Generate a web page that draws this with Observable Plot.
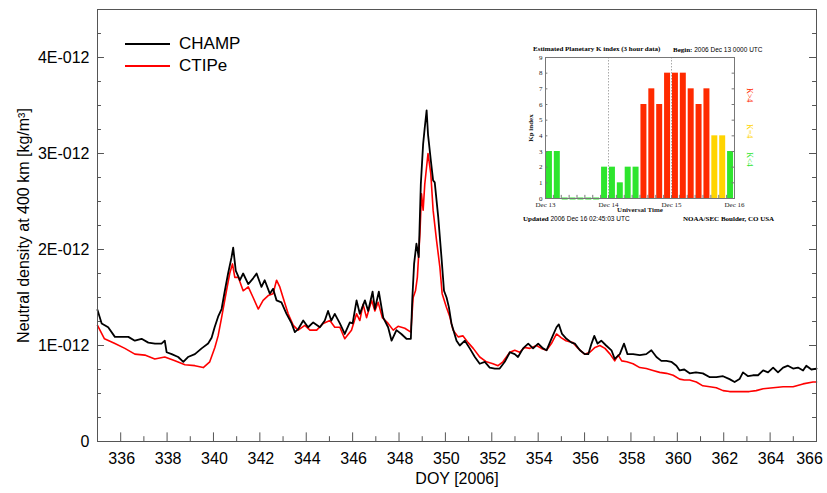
<!DOCTYPE html>
<html><head><meta charset="utf-8">
<script src="https://cdn.jsdelivr.net/npm/d3@7"></script>
<script src="https://cdn.jsdelivr.net/npm/@observablehq/plot@0.6"></script>
<style>
body{margin:0;background:#fff}
#wrap{position:relative;width:827px;height:493px;background:#fff;font-family:"Liberation Sans",Arial,sans-serif}
#legend{position:absolute;left:125px;top:33px;font-size:17px;line-height:22px}
#legend div{display:flex;align-items:center}
#legend span.sw{display:inline-block;width:45px;height:0;margin-right:9px}
#inset{position:absolute;left:520px;top:35px;width:250px;height:190px;background:#fff}
#inset .t{position:absolute;font-family:"Liberation Serif","DejaVu Serif",serif;font-size:7px;white-space:nowrap;line-height:8px}
</style></head>
<body><div id="wrap"></div>
<script>
// ---- main chart data (density in units of 1E-012 kg/m^3) ----
const champDoy = [335.0,335.18,335.46,335.75,336.04,336.33,336.61,336.9,337.19,337.48,337.76,337.9,337.98,338.2,338.48,338.7,338.9,339.2,339.49,339.77,339.92,340.05,340.2,340.35,340.49,340.63,340.78,340.85,340.96,341.14,341.28,341.5,341.71,341.86,342.07,342.21,342.43,342.57,342.72,342.93,343.15,343.37,343.51,343.65,343.87,344.08,344.3,344.59,344.8,344.94,345.08,345.23,345.45,345.66,345.88,346.0,346.17,346.31,346.53,346.67,346.86,346.96,347.13,347.32,347.53,347.68,347.89,348.1,348.32,348.51,348.57,348.65,348.75,348.85,348.94,349.04,349.11,349.19,349.25,349.37,349.47,349.54,349.69,349.83,349.94,350.05,350.15,350.26,350.48,350.62,350.84,351.05,351.27,351.48,351.7,351.91,352.13,352.34,352.56,352.78,352.99,353.13,353.35,353.57,353.78,354.0,354.21,354.36,354.57,354.79,354.89,355.03,355.22,355.44,355.58,355.8,356.01,356.16,356.3,356.42,356.56,356.72,356.93,357.16,357.3,357.52,357.7,357.85,358.09,358.38,358.66,358.88,359.1,359.31,359.53,359.74,359.96,360.1,360.3,360.53,360.8,361.1,361.4,361.68,361.97,362.25,362.47,362.68,362.83,363.05,363.26,363.48,363.7,363.91,364.13,364.34,364.56,364.77,364.99,365.2,365.42,365.56,365.78,366.0];
const champRho = [1.37,1.23,1.19,1.09,1.09,1.09,1.05,1.07,1.03,1.02,1.02,1.05,0.93,0.91,0.88,0.83,0.88,0.91,0.97,1.02,1.08,1.19,1.30,1.38,1.57,1.75,1.92,2.02,1.78,1.68,1.75,1.64,1.70,1.75,1.61,1.68,1.54,1.59,1.47,1.45,1.33,1.23,1.14,1.17,1.26,1.19,1.24,1.19,1.26,1.36,1.26,1.33,1.23,1.12,1.24,1.23,1.47,1.33,1.47,1.36,1.56,1.38,1.56,1.29,1.19,1.05,1.16,1.12,1.07,1.07,1.47,1.85,2.06,1.92,2.68,3.10,3.27,3.45,3.20,2.93,2.72,2.70,2.34,1.92,1.57,1.50,1.40,1.23,1.05,1.00,1.05,0.97,0.88,0.81,0.83,0.77,0.76,0.76,0.83,0.93,0.91,0.88,0.97,1.02,0.97,1.02,0.97,0.95,1.07,1.19,1.22,1.12,1.07,1.03,1.02,0.95,0.91,0.91,1.02,1.10,1.02,1.05,1.00,0.95,0.86,0.91,1.02,0.91,0.91,0.90,0.91,0.95,0.88,0.84,0.84,0.83,0.79,0.74,0.75,0.71,0.72,0.71,0.67,0.67,0.68,0.65,0.62,0.65,0.72,0.68,0.69,0.69,0.74,0.72,0.77,0.72,0.77,0.79,0.76,0.77,0.74,0.79,0.75,0.76];
const ctipeDoy = [335.0,335.3,335.75,336.18,336.61,337.04,337.47,337.9,338.34,338.77,339.2,339.56,339.84,340.06,340.2,340.35,340.56,340.7,340.82,340.92,341.07,341.28,341.5,341.71,341.93,342.14,342.36,342.57,342.72,342.86,343.0,343.22,343.44,343.65,343.94,344.16,344.45,344.73,345.02,345.23,345.45,345.66,345.95,346.17,346.31,346.45,346.6,346.82,346.96,347.1,347.28,347.53,347.75,347.96,348.25,348.51,348.61,348.71,348.79,348.9,348.97,349.04,349.11,349.25,349.37,349.47,349.62,349.76,349.86,350.04,350.19,350.33,350.55,350.76,350.98,351.2,351.48,351.77,352.05,352.27,352.48,352.78,352.99,353.2,353.42,353.64,353.93,354.14,354.36,354.57,354.79,355.0,355.2,355.5,355.72,356.0,356.23,356.45,356.66,356.88,357.1,357.3,357.45,357.6,357.82,358.09,358.38,358.66,358.95,359.24,359.53,359.82,360.1,360.3,360.53,360.82,361.1,361.4,361.68,361.97,362.25,362.68,363.1,363.4,363.7,364.13,364.56,364.99,365.42,365.85,366.0];
const ctipeRho = [1.21,1.07,1.02,0.97,0.91,0.90,0.86,0.88,0.84,0.80,0.79,0.77,0.83,0.98,1.10,1.29,1.57,1.75,1.85,1.71,1.71,1.57,1.61,1.50,1.38,1.47,1.52,1.54,1.68,1.61,1.50,1.33,1.21,1.16,1.21,1.16,1.16,1.23,1.26,1.19,1.19,1.07,1.16,1.33,1.26,1.43,1.29,1.47,1.36,1.45,1.29,1.23,1.16,1.20,1.18,1.14,1.50,1.57,1.71,2.16,2.58,2.41,2.68,3.00,2.79,2.41,2.09,1.82,1.54,1.40,1.30,1.16,1.09,1.10,1.03,0.97,0.88,0.83,0.81,0.79,0.83,0.93,0.95,0.93,0.98,0.97,1.00,0.97,0.95,1.02,1.12,1.08,1.05,1.03,0.97,0.91,0.93,0.98,1.00,0.97,0.91,0.84,0.90,0.84,0.83,0.81,0.77,0.76,0.74,0.72,0.71,0.69,0.65,0.64,0.64,0.62,0.58,0.57,0.56,0.53,0.52,0.52,0.52,0.53,0.55,0.56,0.57,0.57,0.60,0.62,0.62];
const seriesNames = ["CHAMP", "CTIPe"];
const seriesColors = ["#000000", "#ff0000"];
const xTicks = [336,338,340,342,344,346,348,350,352,354,356,358,360,362,364,366];
const yTicks = [0,1,2,3,4];
const yTickLabels = ["0","1E-012","2E-012","3E-012","4E-012"];
const xLabel = "DOY [2006]";
const yLabel = "Neutral density at 400 km [kg/m³]";

// ---- inset (Kp index) data ----
const kpValues = [3,3,0,0,0,0,0,2, 2,1,2,2,6,7,6,8, 8,8,7,6,7,4,4,3];
const kpDayLabels = ["Dec 13","Dec 14","Dec 15","Dec 16"];
const kpTicks = [0,1,2,3,4,5,6,7,8,9];
const kpLegend = [{t:"K>4", c:"#ff2a00", y:6.6},{t:"K=4", c:"#ffd400", y:4.3},{t:"K<4", c:"#2ee52e", y:2.5}];

// ---- build main chart ----
const champ = champDoy.map((d,i)=>({doy:d, rho:champRho[i]}));
const ctipe = ctipeDoy.map((d,i)=>({doy:d, rho:ctipeRho[i]}));
const xAll = d3.range(335, 367);
const yAll = d3.range(0, 4.51, 0.25);
const isInt = v => Math.abs(v - Math.round(v)) < 1e-9;
const xMajor = v => xTicks.includes(v);
const lastTick = xTicks[xTicks.length - 1];

const main = Plot.plot({
  width: 827, height: 493,
  marginLeft: 97, marginRight: 11, marginTop: 9, marginBottom: 52,
  style: {fontFamily: '"Liberation Sans", Arial, sans-serif', fontSize: "16px", color: "#000", background: "transparent", overflow: "visible"},
  x: {domain: [335, 366], axis: null, label: null},
  y: {domain: [0, 4.5], ticks: yTicks, tickSize: 0, tickPadding: 8, tickFormat: d => yTickLabels[yTicks.indexOf(d)], label: yLabel, labelAnchor: "center", labelOffset: 80, labelArrow: "none"},
  marks: [
    Plot.ruleX(xAll, {x: d=>d, y1: 0, y2: d => xMajor(d) ? 0.09 : 0.05, stroke: "#555"}),
    Plot.ruleY(yAll, {y: d=>d, x1: 335, x2: d => isInt(d) ? 335.3 : 335.17, stroke: "#555"}),
    Plot.ruleY(yAll, {y: d=>d, x1: d => isInt(d) ? 365.7 : 365.83, x2: 366, stroke: "#555"}),
    Plot.text(xTicks.filter(d => d !== lastTick), {x: d=>d, y: 0, dy: 17, dx: 1, text: d => String(d), fontSize: 16}),
    Plot.text([lastTick], {x: d=>d, y: 0, dy: 17, dx: -7, text: d => String(d), fontSize: 16}),
    Plot.text([xLabel], {frameAnchor: "bottom", dy: 42, text: d=>d, fontSize: 16}),
    Plot.line(ctipe, {x: "doy", y: "rho", stroke: seriesColors[1], strokeWidth: 1.6}),
    Plot.line(champ, {x: "doy", y: "rho", stroke: seriesColors[0], strokeWidth: 1.8}),
    Plot.frame({stroke: "#555"})
  ]
});
const wrap = document.getElementById("wrap");
wrap.appendChild(main);

// legend
const leg = document.createElement("div");
leg.id = "legend";
seriesNames.forEach((n,i)=>{
  const row = document.createElement("div");
  row.innerHTML = `<span class="sw" style="border-top:2px solid ${seriesColors[i]}"></span>${n}`;
  leg.appendChild(row);
});
wrap.appendChild(leg);

// ---- inset ----
const inset = document.createElement("div");
inset.id = "inset";
const kpColor = v => v > 4 ? kpLegend[0].c : (v === 4 ? kpLegend[1].c : kpLegend[2].c);
const slots = kpValues.map((v,i)=>({i, v, c: kpColor(v)}));
const kpPlot = Plot.plot({
  width: 250, height: 190,
  marginLeft: 25, marginRight: 36, marginTop: 22, marginBottom: 27,
  style: {fontFamily: '"Liberation Serif","DejaVu Serif",serif', fontSize: "7px", color: "#222", background: "transparent", overflow: "visible"},
  color: {type: "identity"},
  x: {domain: [0, 24], ticks: [0,8,16,24], tickSize: 0, tickPadding: 4, tickFormat: d => kpDayLabels[d/8], label: "Universal Time", labelAnchor: "center", labelOffset: 13, labelArrow: "none"},
  y: {domain: [0, 9], ticks: kpTicks, tickSize: 0, tickPadding: 3, label: "Kp index", labelAnchor: "center", labelOffset: 17, labelArrow: "none"},
  marks: [
    Plot.ruleX([8, 16], {x: d=>d, stroke: "#aaa", strokeDasharray: "1.5,1.5"}),
    Plot.rect(slots, {x1: d => d.i + 0.12, x2: d => d.i + 0.88, y1: 0, y2: "v", fill: "c"}),
    Plot.ruleY(slots.filter(d => d.v === 0), {y: 0, x1: d => d.i + 0.12, x2: d => d.i + 0.88, stroke: "c", strokeWidth: 2}),
    Plot.ruleY(kpTicks, {y: d=>d, x1: 0, x2: 0.3, stroke: "#777"}),
    Plot.ruleY(kpTicks, {y: d=>d, x1: 23.7, x2: 24, stroke: "#777"}),
    Plot.ruleX(d3.range(0, 25), {x: d=>d, y1: 0, y2: 0.2, stroke: "#777"}),
    Plot.text(kpLegend, {x: 25.9, y: "y", text: "t", fill: "c", rotate: 90, fontSize: 8}),
    Plot.frame({stroke: "#777"})
  ]
});
kpPlot.querySelectorAll("g[aria-label$='axis label'] text, g[aria-label$='axis label']").forEach(e=>e.setAttribute("font-weight","bold"));
inset.appendChild(kpPlot);
const texts = [
  {x: 13, y: 10, html: "<b>Estimated Planetary K index (3 hour data)</b>"},
  {x: 153, y: 11, html: "<b>Begin:</b> <span style='font-family:Liberation Sans,sans-serif;font-size:6.5px'>2006 Dec 13 0000 UTC</span>"},
  {x: 3, y: 180, html: "<b>Updated</b> <span style='font-family:Liberation Sans,sans-serif;font-size:6.5px'>2006 Dec 16 02:45:03 UTC</span>"},
  {x: 163, y: 180, html: "<b>NOAA/SEC Boulder, CO USA</b>"}
];
texts.forEach(t=>{
  const s = document.createElement("div");
  s.className = "t";
  s.style.left = t.x + "px"; s.style.top = t.y + "px";
  s.innerHTML = t.html;
  inset.appendChild(s);
});
wrap.appendChild(inset);
</script>
</body></html>
